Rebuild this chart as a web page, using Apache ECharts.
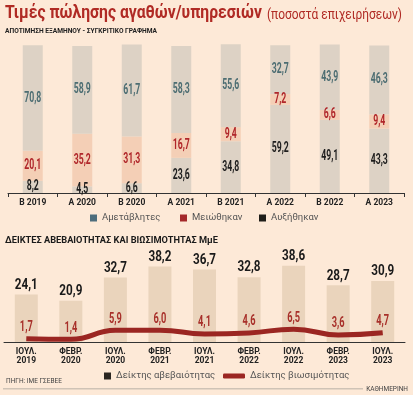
<!DOCTYPE html>
<html><head><meta charset="utf-8">
<script src="https://cdn.jsdelivr.net/npm/echarts@6/dist/echarts.min.js"></script>
<style>html,body{margin:0;padding:0;background:#fde9d7;}#c{width:413px;height:395px;}</style>
</head><body><div id="c"></div>
<script>
const periods = ['Β 2019','Α 2020','Β 2020','Α 2021','Β 2021','Α 2022','Β 2022','Α 2023'];
const unchanged = [70.8, 58.9, 61.7, 58.3, 55.6, 32.7, 43.9, 46.3];
const decreased = [20.1, 35.2, 31.3, 16.7, 9.4, 7.2, 6.6, 9.4];
const increased = [8.2, 4.5, 6.6, 23.6, 34.8, 59.2, 49.1, 43.3];
const dates = ['ΙΟΥΛ.\n2019','ΦΕΒΡ.\n2020','ΙΟΥΛ.\n2020','ΦΕΒΡ.\n2021','ΙΟΥΛ.\n2021','ΦΕΒΡ.\n2022','ΙΟΥΛ.\n2022','ΦΕΒΡ.\n2023','ΙΟΥΛ.\n2023'];
const uncertainty = [24.1, 20.9, 32.7, 38.2, 36.7, 32.8, 38.6, 28.7, 30.9];
const viability = [1.7, 1.4, 5.9, 6.0, 4.1, 4.6, 6.5, 3.6, 4.7];

const RB = "Roboto, 'DejaVu Sans', sans-serif";
const fmtV = v => Number(v).toFixed(1).replace('.', ',');
const barGray = '#ddd2c5';
const barSalmon = '#f4cfb6';

const mctx = document.createElement('canvas').getContext('2d');
function fit(text, weight, size, target){
  mctx.font = weight + ' ' + size + 'px Roboto';
  return target / mctx.measureText(text).width;
}
const T1 = 'Τιμές πώλησης αγαθών/υπηρεσιών';
const T2 = '(ποσοστά επιχειρήσεων)';
const T3 = 'ΑΠΟΤΙΜΗΣΗ ΕΞΑΜΗΝΟΥ - ΣΥΓΚΡΙΤΙΚΟ ΓΡΑΦΗΜΑ';
const T4 = 'ΔΕΙΚΤΕΣ ΑΒΕΒΑΙΟΤΗΤΑΣ ΚΑΙ ΒΙΩΣΙΜΟΤΗΤΑΣ ΜμΕ';

const chart = echarts.init(document.getElementById('c'), null, {renderer:'canvas'});
const legText = {fontFamily:RB, fontSize:9.5, color:'#555'};
chart.setOption({
  backgroundColor:'#fde9d7',
  animation:false,
  legend:[
    {left:90, top:213, padding:0, itemWidth:7, itemHeight:7, icon:'rect', textStyle:legText,
     data:[{name:'Αμετάβλητες', itemStyle:{color:'#4d6d7c'}}]},
    {left:180, top:213, padding:0, itemWidth:7, itemHeight:7, icon:'rect', textStyle:legText,
     data:[{name:'Μειώθηκαν', itemStyle:{color:'#a4282a'}}]},
    {left:259, top:213, padding:0, itemWidth:7, itemHeight:7, icon:'rect', textStyle:legText,
     data:[{name:'Αυξήθηκαν', itemStyle:{color:'#1e1d18'}}]},
    {left:104, top:371, padding:0, itemWidth:7, itemHeight:7, icon:'rect', textStyle:legText,
     data:[{name:'Δείκτης αβεβαιότητας', itemStyle:{color:'#2a2520'}}]},
    {left:223, top:371, padding:0, itemWidth:22, itemHeight:5, icon:'roundRect', textStyle:legText,
     data:[{name:'Δείκτης βιωσιμότητας', itemStyle:{color:'#9b2622'}}]}
  ],
  grid:[
    {left:8, width:396, top:44, height:149},
    {left:4, width:401, top:263, height:79}
  ],
  xAxis:[
    {type:'category', gridIndex:0, data:periods,
     axisLine:{lineStyle:{color:'#333', width:1}},
     axisTick:{show:true, length:4, lineStyle:{color:'#333'}},
     axisLabel:{fontFamily:RB, fontSize:8.5, fontWeight:'bold', color:'#222', margin:5}},
    {type:'category', gridIndex:1, data:dates,
     axisLine:{lineStyle:{color:'#333', width:1}},
     axisTick:{show:false},
     axisLabel:{fontFamily:RB, fontSize:8.5, fontWeight:'bold', color:'#222', margin:5, lineHeight:9.5}}
  ],
  yAxis:[
    {type:'value', gridIndex:0, min:0, max:100, show:false},
    {type:'value', gridIndex:1, min:0, max:40, show:false}
  ],
  series:[
    {name:'Αυξήθηκαν', type:'bar', stack:'a', xAxisIndex:0, yAxisIndex:0, data:increased, barWidth:20, itemStyle:{color:barGray}},
    {name:'Μειώθηκαν', type:'bar', stack:'a', xAxisIndex:0, yAxisIndex:0, data:decreased, barWidth:20, itemStyle:{color:barSalmon}},
    {name:'Αμετάβλητες', type:'bar', stack:'a', xAxisIndex:0, yAxisIndex:0, data:unchanged, barWidth:20, itemStyle:{color:barGray}},
    {name:'Δείκτης αβεβαιότητας', type:'bar', xAxisIndex:1, yAxisIndex:1, data:uncertainty, barWidth:23, itemStyle:{color:'#ead4bc'}},
    {name:'Δείκτης βιωσιμότητας', type:'line', xAxisIndex:1, yAxisIndex:1, data:viability, smooth:0.5,
     symbol:'none', z:5, lineStyle:{color:'#9b2622', width:5}, itemStyle:{color:'#9b2622'}}
  ]
});

// texts and value labels placed through the chart's own scales
const g = [
  {type:'text', x:5, y:4, scaleX:fit(T1,'bold',19,257), z:10,
   style:{text:T1, font:'bold 19px Roboto', fill:'#b02a24'}},
  {type:'text', x:267, y:8, scaleX:fit(T2,'normal',14,135), z:10,
   style:{text:T2, font:'normal 14px Roboto', fill:'#b02a24'}},
  {type:'text', x:5, y:28, scaleX:fit(T3,'bold',7,152), z:10,
   style:{text:T3, font:'bold 7px Roboto', fill:'#222'}},
  {type:'text', x:5, y:236, scaleX:fit(T4,'bold',9,213), z:10,
   style:{text:T4, font:'bold 9px Roboto', fill:'#1a1a1a'}},
  {type:'text', x:6, y:378, z:10, style:{text:'ΠΗΓΗ: ΙΜΕ ΓΣΕΒΕΕ', font:'normal 6.5px Roboto', fill:'#444'}},
  {type:'rect', shape:{x:3, y:388, width:360, height:1.5}, style:{fill:'#cfc3b6'}},
  {type:'text', x:408, y:386, z:10, style:{text:'ΚΑΘΗΜΕΡΙΝΗ', font:'normal 6.5px Roboto', fill:'#444', align:'right'}}
];
const segs = [[increased,'#1d1d1d'],[decreased,'#b0262a'],[unchanged,'#4c6d72']];
for (let i = 0; i < periods.length; i++) {
  let cum = 0;
  segs.forEach(([arr, col]) => {
    const v = arr[i]; const mid = cum + v / 2; cum += v;
    const p = chart.convertToPixel({gridIndex:0}, [i, mid]);
    g.push({type:'text', x:p[0], y:p[1], scaleX:0.62, z:10,
      style:{text:fmtV(v), font:'bold 14px Roboto', fill:col, align:'center', verticalAlign:'middle'}});
  });
}
for (let i = 0; i < dates.length; i++) {
  const pb = chart.convertToPixel({gridIndex:1}, [i, uncertainty[i]]);
  g.push({type:'text', x:pb[0], y:pb[1]-2, scaleX:0.78, z:10,
    style:{text:fmtV(uncertainty[i]), font:'bold 15px Roboto', fill:'#1a1a1a', align:'center', verticalAlign:'bottom'}});
  const pl = chart.convertToPixel({gridIndex:1}, [i, viability[i]]);
  g.push({type:'text', x:pl[0], y:pl[1]-4, scaleX:0.66, z:10,
    style:{text:fmtV(viability[i]), font:'bold 14px Roboto', fill:'#a8302a', align:'center', verticalAlign:'bottom'}});
}
chart.setOption({graphic:g});
</script>
</body></html>
